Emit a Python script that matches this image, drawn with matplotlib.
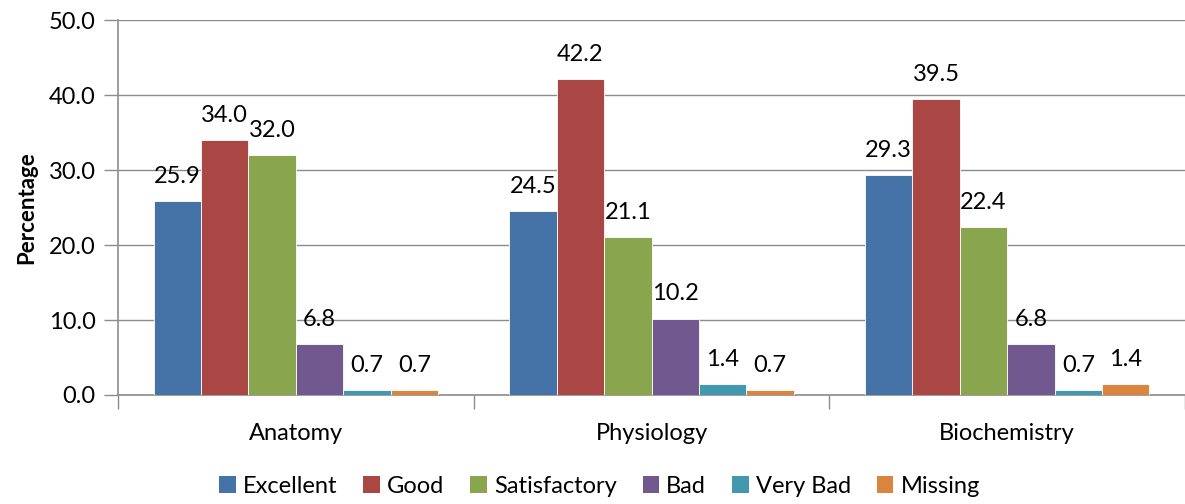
import numpy as np
import matplotlib
matplotlib.use("Agg")
import matplotlib.pyplot as plt
from matplotlib.patches import Patch

subjects = ["Anatomy", "Physiology", "Biochemistry"]
ratings = ["Excellent", "Good", "Satisfactory", "Bad", "Very Bad", "Missing"]
excellent = [25.9, 24.5, 29.3]
good = [34.0, 42.2, 39.5]
satisfactory = [32.0, 21.1, 22.4]
bad = [6.8, 10.2, 6.8]
very_bad = [0.7, 1.4, 0.7]
missing = [0.7, 0.7, 1.4]
colors = ["#4572A7", "#AA4643", "#89A54E", "#71588F", "#4198AF", "#DB843D"]

plt.rcParams["font.family"] = ["Lato", "DejaVu Sans"]
FS = 17

series = [excellent, good, satisfactory, bad, very_bad, missing]
x = np.arange(len(subjects))
width = 0.8 / len(series)

fig = plt.figure(figsize=(11.85, 5.04), dpi=100)
ax = fig.add_axes([0.0996, 0.2163, 0.9004, 0.7437])

for i, (vals, col) in enumerate(zip(series, colors)):
    pos = x - 0.4 + width * (i + 0.5)
    ax.bar(pos, vals, width, color=col, edgecolor="white", linewidth=0.6,
           zorder=3, label=ratings[i])
    for p, v in zip(pos, vals):
        ax.annotate(f"{v:.1f}", (p, v), xytext=(0, 13), textcoords="offset points",
                    ha="center", va="baseline", fontsize=FS, color="black", zorder=4)

ax.set_xlim(-0.5, len(subjects) - 0.5)
ax.set_ylim(0, 50)
ax.set_yticks(np.arange(0, 51, 10))
ax.set_yticklabels([f"{t:.1f}" for t in np.arange(0, 51, 10)], fontsize=FS)
ax.yaxis.grid(True, color="#8c8c8c", linewidth=1, zorder=0)
ax.set_ylabel("Percentage", fontsize=FS - 1, fontweight="bold", labelpad=8)

ax.set_xticks(x)
ax.set_xticklabels(subjects, fontsize=FS)
ax.tick_params(axis="x", length=0, pad=20)
ax.set_xticks(np.arange(-0.5, len(subjects)), minor=True)
ax.tick_params(axis="x", which="minor", length=10, color="#8c8c8c", width=1)
ax.tick_params(axis="y", length=10, color="#8c8c8c", width=1, pad=6)

for s in ["top", "right"]:
    ax.spines[s].set_visible(False)
for s in ["left", "bottom"]:
    ax.spines[s].set_color("#8c8c8c")
    ax.spines[s].set_linewidth(1.2)

handles = [Patch(facecolor=c, label=r) for c, r in zip(colors, ratings)]
fig.legend(handles=handles, loc="center", bbox_to_anchor=(0.506, 0.035), ncol=6,
           frameon=False, fontsize=FS, handlelength=0.7, handleheight=0.7,
           handletextpad=0.3, columnspacing=1.1)

fig.savefig("out.png", dpi=100)
